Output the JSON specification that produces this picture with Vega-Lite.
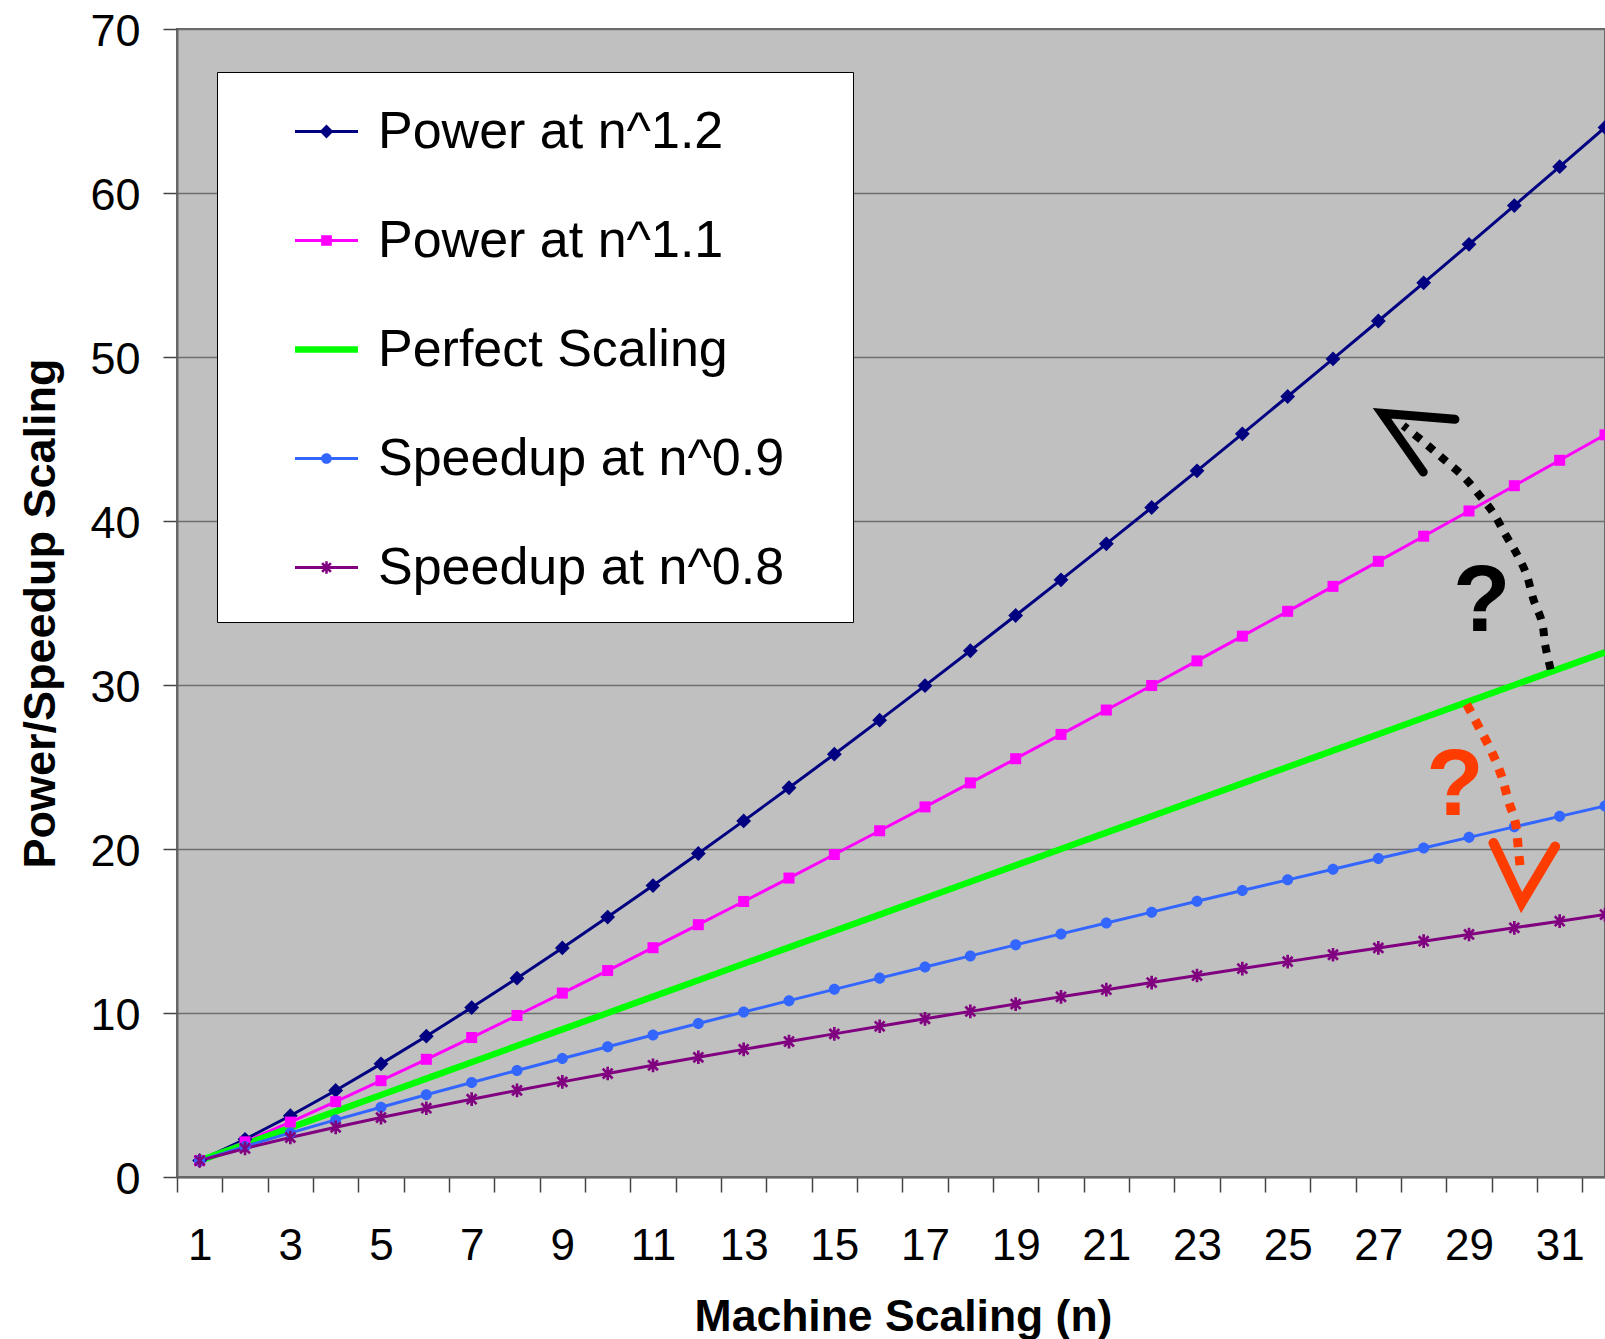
{
  "$schema": "https://vega.github.io/schema/vega-lite/v6.json",
  "width": 1428,
  "height": 1148,
  "autosize": {"type": "none"},
  "padding": {"left": 177, "top": 29, "right": 0, "bottom": 162},
  "background": "white",
  "config": {
    "view": {"fill": "#C0C0C0", "stroke": "#666666", "strokeWidth": 2},
    "font": "Liberation Sans",
    "axis": {"labelFont": "Liberation Sans", "titleFont": "Liberation Sans", "labelColor": "black", "titleColor": "black"},
    "legend": {
      "orient": "none",
      "direction": "vertical",
      "legendX": 40,
      "legendY": 43,
      "fillColor": "white",
      "strokeColor": "black",
      "padding": 28,
      "symbolSize": 3969,
      "symbolOffset": 50,
      "labelOffset": 20,
      "rowPadding": 51,
      "labelFont": "Liberation Sans",
      "labelFontSize": 52,
      "labelColor": "black",
      "labelLimit": 1000,
      "symbolOpacity": 1,
      "symbolStrokeWidth": 0,
      "titleOrient": "right",
      "titlePadding": 38,
      "titleFontSize": 8,
      "titleColor": "transparent"
    }
  },
  "datasets": {
    "series": [
      {"n":1,"series":"Power at n^1.2","value":1},{"n":2,"series":"Power at n^1.2","value":2.297},{"n":3,"series":"Power at n^1.2","value":3.737},{"n":4,"series":"Power at n^1.2","value":5.278},{"n":5,"series":"Power at n^1.2","value":6.899},{"n":6,"series":"Power at n^1.2","value":8.586},{"n":7,"series":"Power at n^1.2","value":10.33},{"n":8,"series":"Power at n^1.2","value":12.126},{"n":9,"series":"Power at n^1.2","value":13.967},{"n":10,"series":"Power at n^1.2","value":15.849},{"n":11,"series":"Power at n^1.2","value":17.769},{"n":12,"series":"Power at n^1.2","value":19.725},{"n":13,"series":"Power at n^1.2","value":21.714},{"n":14,"series":"Power at n^1.2","value":23.733},{"n":15,"series":"Power at n^1.2","value":25.782},{"n":16,"series":"Power at n^1.2","value":27.858},{"n":17,"series":"Power at n^1.2","value":29.96},{"n":18,"series":"Power at n^1.2","value":32.087},{"n":19,"series":"Power at n^1.2","value":34.238},{"n":20,"series":"Power at n^1.2","value":36.411},{"n":21,"series":"Power at n^1.2","value":38.607},{"n":22,"series":"Power at n^1.2","value":40.823},{"n":23,"series":"Power at n^1.2","value":43.06},{"n":24,"series":"Power at n^1.2","value":45.316},{"n":25,"series":"Power at n^1.2","value":47.591},{"n":26,"series":"Power at n^1.2","value":49.885},{"n":27,"series":"Power at n^1.2","value":52.196},{"n":28,"series":"Power at n^1.2","value":54.524},{"n":29,"series":"Power at n^1.2","value":56.869},{"n":30,"series":"Power at n^1.2","value":59.231},{"n":31,"series":"Power at n^1.2","value":61.608},{"n":32,"series":"Power at n^1.2","value":64},
      {"n":1,"series":"Power at n^1.1","value":1},{"n":2,"series":"Power at n^1.1","value":2.144},{"n":3,"series":"Power at n^1.1","value":3.348},{"n":4,"series":"Power at n^1.1","value":4.595},{"n":5,"series":"Power at n^1.1","value":5.873},{"n":6,"series":"Power at n^1.1","value":7.177},{"n":7,"series":"Power at n^1.1","value":8.504},{"n":8,"series":"Power at n^1.1","value":9.849},{"n":9,"series":"Power at n^1.1","value":11.212},{"n":10,"series":"Power at n^1.1","value":12.589},{"n":11,"series":"Power at n^1.1","value":13.981},{"n":12,"series":"Power at n^1.1","value":15.385},{"n":13,"series":"Power at n^1.1","value":16.801},{"n":14,"series":"Power at n^1.1","value":18.228},{"n":15,"series":"Power at n^1.1","value":19.665},{"n":16,"series":"Power at n^1.1","value":21.112},{"n":17,"series":"Power at n^1.1","value":22.568},{"n":18,"series":"Power at n^1.1","value":24.033},{"n":19,"series":"Power at n^1.1","value":25.505},{"n":20,"series":"Power at n^1.1","value":26.986},{"n":21,"series":"Power at n^1.1","value":28.474},{"n":22,"series":"Power at n^1.1","value":29.968},{"n":23,"series":"Power at n^1.1","value":31.47},{"n":24,"series":"Power at n^1.1","value":32.979},{"n":25,"series":"Power at n^1.1","value":34.493},{"n":26,"series":"Power at n^1.1","value":36.014},{"n":27,"series":"Power at n^1.1","value":37.541},{"n":28,"series":"Power at n^1.1","value":39.073},{"n":29,"series":"Power at n^1.1","value":40.61},{"n":30,"series":"Power at n^1.1","value":42.153},{"n":31,"series":"Power at n^1.1","value":43.702},{"n":32,"series":"Power at n^1.1","value":45.255},
      {"n":1,"series":"Perfect Scaling","value":1},{"n":2,"series":"Perfect Scaling","value":2},{"n":3,"series":"Perfect Scaling","value":3},{"n":4,"series":"Perfect Scaling","value":4},{"n":5,"series":"Perfect Scaling","value":5},{"n":6,"series":"Perfect Scaling","value":6},{"n":7,"series":"Perfect Scaling","value":7},{"n":8,"series":"Perfect Scaling","value":8},{"n":9,"series":"Perfect Scaling","value":9},{"n":10,"series":"Perfect Scaling","value":10},{"n":11,"series":"Perfect Scaling","value":11},{"n":12,"series":"Perfect Scaling","value":12},{"n":13,"series":"Perfect Scaling","value":13},{"n":14,"series":"Perfect Scaling","value":14},{"n":15,"series":"Perfect Scaling","value":15},{"n":16,"series":"Perfect Scaling","value":16},{"n":17,"series":"Perfect Scaling","value":17},{"n":18,"series":"Perfect Scaling","value":18},{"n":19,"series":"Perfect Scaling","value":19},{"n":20,"series":"Perfect Scaling","value":20},{"n":21,"series":"Perfect Scaling","value":21},{"n":22,"series":"Perfect Scaling","value":22},{"n":23,"series":"Perfect Scaling","value":23},{"n":24,"series":"Perfect Scaling","value":24},{"n":25,"series":"Perfect Scaling","value":25},{"n":26,"series":"Perfect Scaling","value":26},{"n":27,"series":"Perfect Scaling","value":27},{"n":28,"series":"Perfect Scaling","value":28},{"n":29,"series":"Perfect Scaling","value":29},{"n":30,"series":"Perfect Scaling","value":30},{"n":31,"series":"Perfect Scaling","value":31},{"n":32,"series":"Perfect Scaling","value":32},
      {"n":1,"series":"Speedup at n^0.9","value":1},{"n":2,"series":"Speedup at n^0.9","value":1.866},{"n":3,"series":"Speedup at n^0.9","value":2.688},{"n":4,"series":"Speedup at n^0.9","value":3.482},{"n":5,"series":"Speedup at n^0.9","value":4.257},{"n":6,"series":"Speedup at n^0.9","value":5.016},{"n":7,"series":"Speedup at n^0.9","value":5.762},{"n":8,"series":"Speedup at n^0.9","value":6.498},{"n":9,"series":"Speedup at n^0.9","value":7.225},{"n":10,"series":"Speedup at n^0.9","value":7.943},{"n":11,"series":"Speedup at n^0.9","value":8.655},{"n":12,"series":"Speedup at n^0.9","value":9.36},{"n":13,"series":"Speedup at n^0.9","value":10.059},{"n":14,"series":"Speedup at n^0.9","value":10.753},{"n":15,"series":"Speedup at n^0.9","value":11.442},{"n":16,"series":"Speedup at n^0.9","value":12.126},{"n":17,"series":"Speedup at n^0.9","value":12.806},{"n":18,"series":"Speedup at n^0.9","value":13.482},{"n":19,"series":"Speedup at n^0.9","value":14.154},{"n":20,"series":"Speedup at n^0.9","value":14.823},{"n":21,"series":"Speedup at n^0.9","value":15.488},{"n":22,"series":"Speedup at n^0.9","value":16.15},{"n":23,"series":"Speedup at n^0.9","value":16.81},{"n":24,"series":"Speedup at n^0.9","value":17.466},{"n":25,"series":"Speedup at n^0.9","value":18.119},{"n":26,"series":"Speedup at n^0.9","value":18.77},{"n":27,"series":"Speedup at n^0.9","value":19.419},{"n":28,"series":"Speedup at n^0.9","value":20.065},{"n":29,"series":"Speedup at n^0.9","value":20.709},{"n":30,"series":"Speedup at n^0.9","value":21.351},{"n":31,"series":"Speedup at n^0.9","value":21.99},{"n":32,"series":"Speedup at n^0.9","value":22.627},
      {"n":1,"series":"Speedup at n^0.8","value":1},{"n":2,"series":"Speedup at n^0.8","value":1.741},{"n":3,"series":"Speedup at n^0.8","value":2.408},{"n":4,"series":"Speedup at n^0.8","value":3.031},{"n":5,"series":"Speedup at n^0.8","value":3.624},{"n":6,"series":"Speedup at n^0.8","value":4.193},{"n":7,"series":"Speedup at n^0.8","value":4.743},{"n":8,"series":"Speedup at n^0.8","value":5.278},{"n":9,"series":"Speedup at n^0.8","value":5.8},{"n":10,"series":"Speedup at n^0.8","value":6.31},{"n":11,"series":"Speedup at n^0.8","value":6.809},{"n":12,"series":"Speedup at n^0.8","value":7.3},{"n":13,"series":"Speedup at n^0.8","value":7.783},{"n":14,"series":"Speedup at n^0.8","value":8.259},{"n":15,"series":"Speedup at n^0.8","value":8.727},{"n":16,"series":"Speedup at n^0.8","value":9.19},{"n":17,"series":"Speedup at n^0.8","value":9.646},{"n":18,"series":"Speedup at n^0.8","value":10.098},{"n":19,"series":"Speedup at n^0.8","value":10.544},{"n":20,"series":"Speedup at n^0.8","value":10.986},{"n":21,"series":"Speedup at n^0.8","value":11.423},{"n":22,"series":"Speedup at n^0.8","value":11.856},{"n":23,"series":"Speedup at n^0.8","value":12.285},{"n":24,"series":"Speedup at n^0.8","value":12.711},{"n":25,"series":"Speedup at n^0.8","value":13.133},{"n":26,"series":"Speedup at n^0.8","value":13.551},{"n":27,"series":"Speedup at n^0.8","value":13.967},{"n":28,"series":"Speedup at n^0.8","value":14.379},{"n":29,"series":"Speedup at n^0.8","value":14.788},{"n":30,"series":"Speedup at n^0.8","value":15.195},{"n":31,"series":"Speedup at n^0.8","value":15.599},{"n":32,"series":"Speedup at n^0.8","value":16}
    ],
    "blackArc": [
      {"i":1,"n":30.8,"value":30.95},{"i":2,"n":30.68,"value":32.45},{"i":3,"n":30.61,"value":33.84},{"i":4,"n":30.42,"value":35.23},{"i":5,"n":30.27,"value":36.73},{"i":6,"n":30.05,"value":38.01},{"i":7,"n":29.8,"value":39.19},{"i":8,"n":29.54,"value":40.47},{"i":9,"n":29.24,"value":41.54},{"i":10,"n":28.88,"value":42.71},{"i":11,"n":28.43,"value":43.79},{"i":12,"n":28.03,"value":44.75},{"i":13,"n":27.55,"value":45.82}
    ],
    "blackHead": [
      {"i":1,"n":28.69,"value":46.2},{"i":2,"n":27.08,"value":46.57},{"i":3,"n":27.99,"value":42.99}
    ],
    "redArc": [
      {"i":1,"n":28.95,"value":28.82},{"i":2,"n":29.24,"value":27.32},{"i":3,"n":29.5,"value":25.93},{"i":4,"n":29.72,"value":24.43},{"i":5,"n":29.87,"value":22.93},{"i":6,"n":30.02,"value":21.65},{"i":7,"n":30.09,"value":19.94},{"i":8,"n":30.13,"value":18.87}
    ],
    "redHead": [
      {"i":1,"n":29.54,"value":20.37},{"i":2,"n":30.16,"value":16.73},{"i":3,"n":30.9,"value":20.15}
    ],
    "qBlack": [{"n":29.28,"value":33.3,"t":"?"}],
    "qRed": [{"n":28.69,"value":22.07,"t":"?"}]
  },
  "layer": [
    {
      "data": {"name": "series"},
      "transform": [{"filter": "datum.series === 'Power at n^1.2'"}],
      "mark": {"type": "line", "color": "#000080", "strokeWidth": 3, "strokeJoin": "round"},
      "encoding": {
        "x": {
          "field": "n", "type": "quantitative",
          "scale": {"domain": [0.5, 32], "nice": false, "zero": false},
          "axis": {
            "values": [0.5,1.5,2.5,3.5,4.5,5.5,6.5,7.5,8.5,9.5,10.5,11.5,12.5,13.5,14.5,15.5,16.5,17.5,18.5,19.5,20.5,21.5,22.5,23.5,24.5,25.5,26.5,27.5,28.5,29.5,30.5,31.5],
            "labelExpr": "(datum.value + 0.5) % 2 == 1 ? format(datum.value + 0.5, 'd') : ''",
            "labelOffset": 22.67,
            "labelAlign": "center",
            "labelBaseline": "top",
            "labelFlush": false,
            "labelOverlap": false,
            "labelFontSize": 44,
            "labelPadding": 32,
            "tickSize": 15,
            "tickColor": "#444444",
            "tickWidth": 1.5,
            "domainColor": "#666666",
            "domainWidth": 2,
            "grid": false,
            "title": "Machine Scaling (n)",
            "titleFontSize": 44.5,
            "titleFontWeight": "bold",
            "titleX": 726,
            "titleY": 153,
            "titleAlign": "center",
            "titleBaseline": "alphabetic"
          }
        },
        "y": {
          "field": "value", "type": "quantitative",
          "scale": {"domain": [0, 70], "nice": false, "zero": true},
          "axis": {
            "values": [0,10,20,30,40,50,60,70],
            "grid": true,
            "gridColor": "#6E6E6E",
            "gridWidth": 1.5,
            "tickSize": 14,
            "tickColor": "#444444",
            "tickWidth": 1.5,
            "domainColor": "#666666",
            "domainWidth": 2,
            "labelFontSize": 45,
            "labelPadding": 23,
            "labelBaseline": "middle",
            "labelOffset": 2,
            "title": "Power/Speedup Scaling",
            "titleFontSize": 45,
            "titleFontWeight": "bold",
            "titleAngle": -90,
            "titleX": -123,
            "titleY": 584,
            "titleAlign": "center",
            "titleBaseline": "alphabetic"
          }
        }
      }
    },
    {
      "data": {"name": "series"},
      "transform": [{"filter": "datum.series === 'Power at n^1.1'"}],
      "mark": {"type": "line", "color": "#FF00FF", "strokeWidth": 3, "strokeJoin": "round"},
      "encoding": {
        "x": {"field": "n", "type": "quantitative"},
        "y": {"field": "value", "type": "quantitative"}
      }
    },
    {
      "data": {"name": "series"},
      "transform": [{"filter": "datum.series === 'Perfect Scaling'"}],
      "mark": {"type": "line", "color": "#00FF00", "strokeWidth": 6.5, "strokeJoin": "round"},
      "encoding": {
        "x": {"field": "n", "type": "quantitative"},
        "y": {"field": "value", "type": "quantitative"}
      }
    },
    {
      "data": {"name": "series"},
      "transform": [{"filter": "datum.series === 'Speedup at n^0.9'"}],
      "mark": {"type": "line", "color": "#3366FF", "strokeWidth": 3, "strokeJoin": "round"},
      "encoding": {
        "x": {"field": "n", "type": "quantitative"},
        "y": {"field": "value", "type": "quantitative"}
      }
    },
    {
      "data": {"name": "series"},
      "transform": [{"filter": "datum.series === 'Speedup at n^0.8'"}],
      "mark": {"type": "line", "color": "#800080", "strokeWidth": 3, "strokeJoin": "round"},
      "encoding": {
        "x": {"field": "n", "type": "quantitative"},
        "y": {"field": "value", "type": "quantitative"}
      }
    },
    {
      "data": {"name": "series"},
      "transform": [{"filter": "datum.series === 'Power at n^1.2'"}],
      "mark": {"type": "point", "filled": true, "opacity": 1, "size": 361, "strokeWidth": 0, "color": "#000080", "shape": "M0,-0.78L0.78,0L0,0.78L-0.78,0Z"},
      "encoding": {
        "x": {"field": "n", "type": "quantitative"},
        "y": {"field": "value", "type": "quantitative"}
      }
    },
    {
      "data": {"name": "series"},
      "transform": [{"filter": "datum.series === 'Power at n^1.1'"}],
      "mark": {"type": "point", "filled": true, "opacity": 1, "size": 361, "strokeWidth": 0, "color": "#FF00FF", "shape": "M-0.58,-0.58H0.58V0.58H-0.58Z"},
      "encoding": {
        "x": {"field": "n", "type": "quantitative"},
        "y": {"field": "value", "type": "quantitative"}
      }
    },
    {
      "data": {"name": "series"},
      "transform": [{"filter": "datum.series === 'Speedup at n^0.9'"}],
      "mark": {"type": "point", "filled": true, "opacity": 1, "size": 361, "strokeWidth": 0, "color": "#3366FF", "shape": "M-0.58,0A0.58,0.58 0 1,1 0.58,0A0.58,0.58 0 1,1 -0.58,0Z"},
      "encoding": {
        "x": {"field": "n", "type": "quantitative"},
        "y": {"field": "value", "type": "quantitative"}
      }
    },
    {
      "data": {"name": "series"},
      "transform": [{"filter": "datum.series === 'Speedup at n^0.8'"}],
      "mark": {"type": "point", "filled": true, "opacity": 1, "size": 361, "strokeWidth": 0, "color": "#800080", "shape": "M-0.14,-0.72H0.14V0.72H-0.14Z M-0.62,-0.42L-0.42,-0.62L0.62,0.42L0.42,0.62Z M0.42,-0.62L0.62,-0.42L-0.42,0.62L-0.62,0.42Z"},
      "encoding": {
        "x": {"field": "n", "type": "quantitative"},
        "y": {"field": "value", "type": "quantitative"}
      }
    },
    {
      "data": {"name": "series"},
      "transform": [{"filter": "datum.n == 1"}],
      "mark": {"type": "point", "filled": true, "opacity": 0, "size": 3969, "strokeWidth": 0},
      "encoding": {
        "x": {"field": "n", "type": "quantitative"},
        "y": {"field": "value", "type": "quantitative"},
        "color": {
          "field": "series", "type": "nominal",
          "scale": {
            "domain": ["Power at n^1.2","Power at n^1.1","Perfect Scaling","Speedup at n^0.9","Speedup at n^0.8"],
            "range": ["#000080","#FF00FF","#00FF00","#3366FF","#800080"]
          },
          "legend": {"title": "."}
        },
        "shape": {
          "field": "series", "type": "nominal",
          "scale": {
            "domain": ["Power at n^1.2","Power at n^1.1","Perfect Scaling","Speedup at n^0.9","Speedup at n^0.8"],
            "range": [
              "M-1,-0.045H1V0.045H-1Z M0,-0.22L0.22,0L0,0.22L-0.22,0Z",
              "M-1,-0.045H1V0.045H-1Z M-0.17,-0.17H0.17V0.17H-0.17Z",
              "M-1,-0.1H1V0.1H-1Z",
              "M-1,-0.045H1V0.045H-1Z M-0.17,0A0.17,0.17 0 1,1 0.17,0A0.17,0.17 0 1,1 -0.17,0Z",
              "M-1,-0.045H1V0.045H-1Z M-0.04,-0.2H0.04V0.2H-0.04Z M-0.17,-0.11L-0.11,-0.17L0.17,0.11L0.11,0.17Z M0.11,-0.17L0.17,-0.11L-0.11,0.17L-0.17,0.11Z"
            ]
          },
          "legend": {"title": "."}
        }
      }
    },
    {
      "data": {"name": "blackArc"},
      "mark": {"type": "line", "color": "black", "strokeWidth": 8, "strokeDash": [8, 9], "strokeCap": "butt", "interpolate": "cardinal"},
      "encoding": {
        "x": {"field": "n", "type": "quantitative"},
        "y": {"field": "value", "type": "quantitative"},
        "order": {"field": "i", "type": "quantitative"}
      }
    },
    {
      "data": {"name": "blackHead"},
      "mark": {"type": "line", "color": "black", "strokeWidth": 9, "strokeCap": "round", "strokeJoin": "miter"},
      "encoding": {
        "x": {"field": "n", "type": "quantitative"},
        "y": {"field": "value", "type": "quantitative"},
        "order": {"field": "i", "type": "quantitative"}
      }
    },
    {
      "data": {"name": "redArc"},
      "mark": {"type": "line", "color": "#FF3C00", "strokeWidth": 9, "strokeDash": [9, 9], "strokeCap": "butt", "interpolate": "cardinal"},
      "encoding": {
        "x": {"field": "n", "type": "quantitative"},
        "y": {"field": "value", "type": "quantitative"},
        "order": {"field": "i", "type": "quantitative"}
      }
    },
    {
      "data": {"name": "redHead"},
      "mark": {"type": "line", "color": "#FF3C00", "strokeWidth": 10, "strokeCap": "round", "strokeJoin": "miter"},
      "encoding": {
        "x": {"field": "n", "type": "quantitative"},
        "y": {"field": "value", "type": "quantitative"},
        "order": {"field": "i", "type": "quantitative"}
      }
    },
    {
      "data": {"name": "qBlack"},
      "mark": {"type": "text", "color": "black", "font": "Liberation Sans", "fontSize": 94, "fontWeight": "bold", "align": "center", "baseline": "alphabetic"},
      "encoding": {
        "x": {"field": "n", "type": "quantitative"},
        "y": {"field": "value", "type": "quantitative"},
        "text": {"field": "t"}
      }
    },
    {
      "data": {"name": "qRed"},
      "mark": {"type": "text", "color": "#FF3C00", "font": "Liberation Sans", "fontSize": 94, "fontWeight": "bold", "align": "center", "baseline": "alphabetic"},
      "encoding": {
        "x": {"field": "n", "type": "quantitative"},
        "y": {"field": "value", "type": "quantitative"},
        "text": {"field": "t"}
      }
    }
  ]
}
